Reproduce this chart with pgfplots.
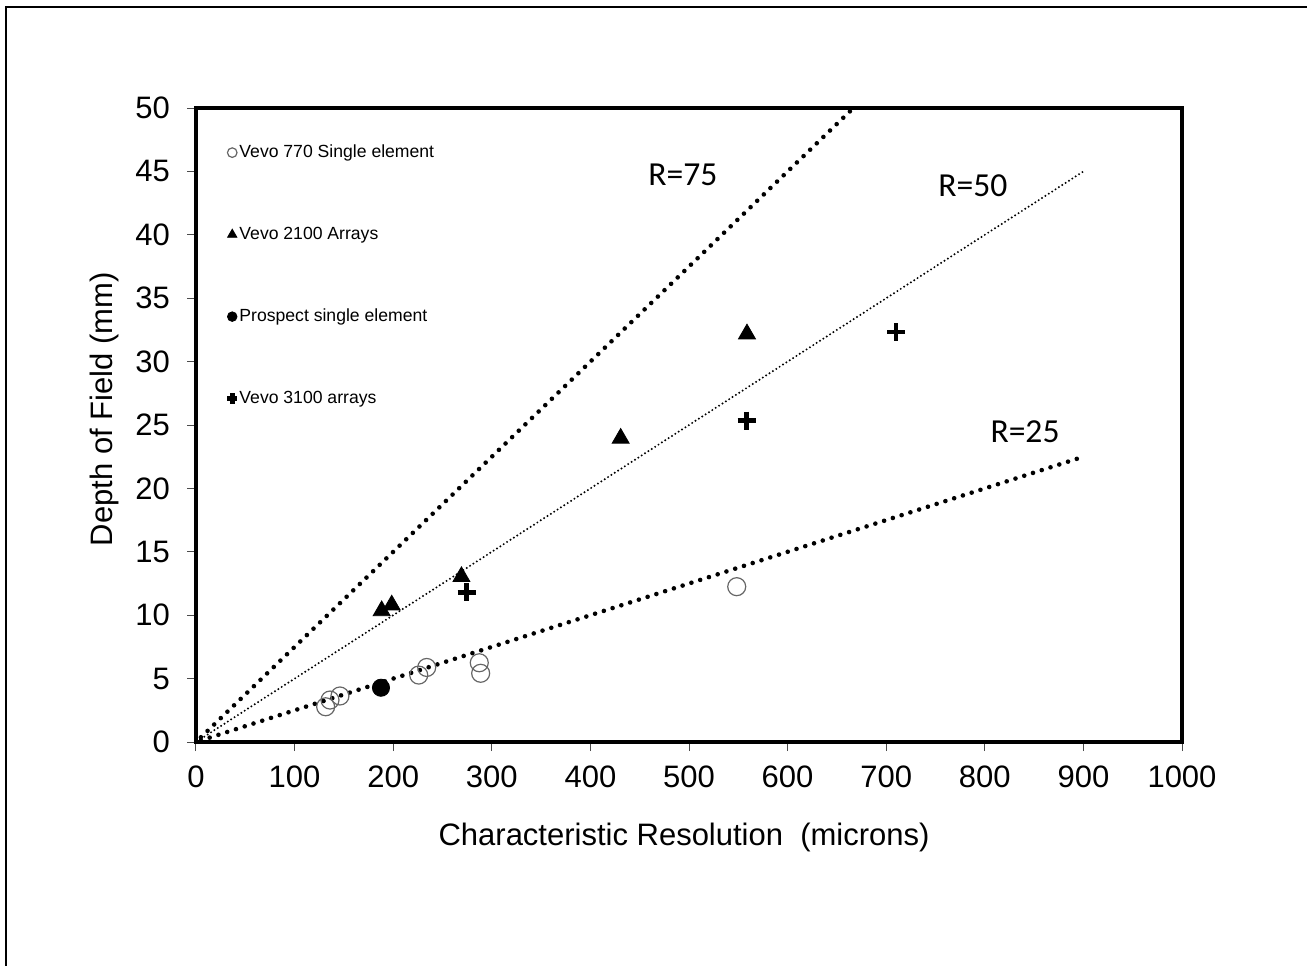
\documentclass[border=0pt]{standalone}
\usepackage{fontspec}
\setmainfont{Liberation Sans}
\newfontfamily\calibri{Carlito}
\usepackage{pgfplots}
\pgfplotsset{compat=1.18}

\pgfplotsset{
  bigdots/.style={black, line width=2.3pt, line cap=round, dash pattern=on 0pt off 4.6pt},
  smalldots/.style={black, line width=1.1pt, line cap=round, dash pattern=on 0pt off 2pt},
  smallmark/.style={legend image code/.code={\draw[##1, mark size=#1] plot[only marks] coordinates {(0pt,0pt)};}},
}

\begin{document}
\begin{tikzpicture}[x=1pt,y=1pt]
\useasboundingbox (0,0) rectangle (653.5,-482.5);
\draw[line width=1pt] (3,-495) -- (3,-3.5) -- (660,-3.5);
\begin{axis}[
  at={(98pt,-371pt)}, anchor=south west,
  scale only axis, width=493pt, height=317pt,
  xmin=0, xmax=1000, ymin=0, ymax=50,
  xtick={0,100,...,1000}, ytick={0,5,...,50},
  axis line style={line width=1.6pt},
  tick align=outside, xtick pos=bottom, ytick pos=left,
  major tick length=4.5pt,
  tick style={line width=0.5pt, black!70},
  ticklabel style={font=\fontsize{15.5}{18}\selectfont},
  xticklabel style={yshift=-4pt},
  yticklabel style={xshift=-5pt},
  /pgf/number format/assume math mode=true,
  /pgf/number format/1000 sep={},
  xlabel={Characteristic Resolution\ \ (microns)},
  ylabel={Depth of Field (mm)},
  label style={font=\fontsize{15.5}{18}\selectfont},
  xlabel style={at={(axis description cs:0.495,-0.151)}, anchor=center},
  ylabel style={at={(axis description cs:-0.0933,0.525)}, anchor=center},
  legend style={draw=none, fill=none, at={(0.025,0.95)}, anchor=north west,
    row sep=32.5pt, column sep=1pt, font=\fontsize{8.8}{10}\selectfont,
    nodes={inner sep=0pt, text height=6.5pt, text depth=2pt}},
  legend cell align=left,
  clip=true,
]
% reference lines R = 75, 50, 25
\addplot[bigdots, forget plot] coordinates {(5,0.375) (666.7,50)};
\addplot[smalldots, forget plot] coordinates {(5,0.25) (900,45)};
\addplot[bigdots, forget plot] coordinates {(5,0.125) (900,22.5)};

% Vevo 770 single element
\addplot[only marks, mark=o, mark size=4.5pt, color=black!60, line width=0.6pt, smallmark=2.4pt]
  coordinates {(131.5,2.78) (135.9,3.31) (146.0,3.63) (225.9,5.28) (234.0,5.88)
               (287.3,6.25) (288.7,5.42) (548.4,12.25)};
\addlegendentry{Vevo 770 Single element}
% Vevo 2100 arrays
\addplot[only marks, mark=triangle*, mark size=4.9pt, black, smallmark=2.7pt]
  coordinates {(188.3,10.35) (198.5,10.80) (269.2,13.04) (430.7,23.95) (558.8,32.18)};
\addlegendentry{Vevo 2100 Arrays}
% Prospect single element
\addplot[only marks, mark=*, mark size=4.3pt, black, smallmark=2.4pt]
  coordinates {(187.6,4.28)};
\addlegendentry{Prospect single element}
% Vevo 3100 arrays
\addplot[only marks, mark=+, mark size=4.5pt, black, line width=2.4pt, smallmark=2.6pt]
  coordinates {(274.5,11.8) (558.5,25.34) (710,32.33)};
\addlegendentry{Vevo 3100 arrays}

\node[font=\calibri\fontsize{16.8}{20}\selectfont] at (axis cs:493.9,44.7) {R=75};
\node[font=\calibri\fontsize{16.8}{20}\selectfont] at (axis cs:788,43.85) {R=50};
\node[font=\calibri\fontsize{16.8}{20}\selectfont] at (axis cs:840.8,24.45) {R=25};
\end{axis}
\end{tikzpicture}
\end{document}
